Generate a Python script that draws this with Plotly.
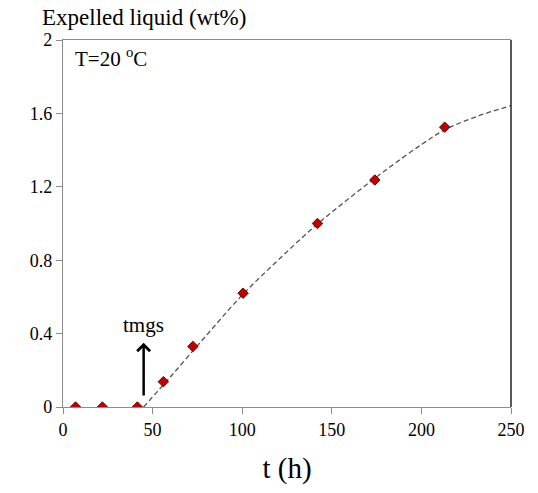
import plotly.graph_objects as go

# measured data
t_points = [7, 22, 41.5, 56, 72.5, 100.5, 142, 174, 213]
expelled = [0, 0, 0, 0.138, 0.33, 0.62, 1.0, 1.237, 1.525]

# fitted (dashed) curve
t_fit = [45, 60, 80, 100, 120, 140, 160, 180, 200, 213, 230, 250]
y_fit = [0, 0.165, 0.39, 0.61, 0.80, 0.98, 1.14, 1.29, 1.43, 1.51, 1.58, 1.642]

x_ticks = [0, 50, 100, 150, 200, 250]
y_ticks = [0, 0.4, 0.8, 1.2, 1.6, 2]
y_tick_labels = ["0", "0.4", "0.8", "1.2", "1.6", "2"]

t_mgs = 45
arrow_top = 0.35

FONT = "Liberation Serif"

fig = go.Figure()
fig.add_trace(go.Scatter(
    x=t_fit, y=y_fit, mode="lines", line_shape="spline",
    line=dict(color="#555555", width=1.3, dash="5px,3px"),
    hoverinfo="skip", showlegend=False))
fig.add_trace(go.Scatter(
    x=t_points, y=expelled, mode="markers",
    marker=dict(symbol="diamond", size=8, color="#c00000",
                line=dict(color="#700000", width=1)),
    showlegend=False))

fig.add_annotation(x=t_mgs, y=arrow_top, ax=t_mgs, ay=0, xref="x", yref="y",
                   axref="x", ayref="y", showarrow=True, arrowhead=4,
                   arrowsize=1.0, arrowwidth=2.5, arrowcolor="black", text=" ")
fig.add_annotation(x=t_mgs, y=arrow_top + 0.095, xref="x", yref="y",
                   text="tmgs", showarrow=False,
                   font=dict(family=FONT, size=21, color="black"),
                   xanchor="center", yanchor="middle")
fig.add_annotation(x=0.022, y=0.951, xref="paper", yref="paper",
                   text="T=20 <sup>o</sup>C", showarrow=False,
                   font=dict(family=FONT, size=21, color="black"),
                   xanchor="left", yanchor="middle")
fig.add_annotation(x=(40 - 63) / 448, y=(407 - 17) / 367, xref="paper", yref="paper",
                   text="Expelled liquid (wt%)", showarrow=False,
                   font=dict(family=FONT, size=23, color="black"),
                   xanchor="left", yanchor="middle")
fig.add_shape(type="line", xref="paper", yref="paper", x0=1, x1=1, y0=0, y1=1,
              line=dict(color="#222222", width=1.5))

fig.update_layout(
    width=538, height=493,
    margin=dict(l=63, r=27, t=40, b=86),
    paper_bgcolor="white", plot_bgcolor="white",
    font=dict(family=FONT, size=18, color="black"),
    xaxis=dict(range=[0, 250], tickvals=x_ticks, showgrid=False, zeroline=False,
               showline=True, linecolor="#8c8c8c", linewidth=1.2, mirror=True,
               ticks="outside", ticklen=6, tickcolor="#8c8c8c",
               tickfont=dict(family=FONT, size=18),
               title=dict(text="t (h)", font=dict(family=FONT, size=29), standoff=18)),
    yaxis=dict(range=[0, 2], tickvals=y_ticks, ticktext=y_tick_labels,
               showgrid=False, zeroline=False,
               showline=True, linecolor="#8c8c8c", linewidth=1.2,
               ticks="outside", ticklen=6, tickcolor="#8c8c8c",
               tickfont=dict(family=FONT, size=18)),
)

fig.write_html("out.html")
